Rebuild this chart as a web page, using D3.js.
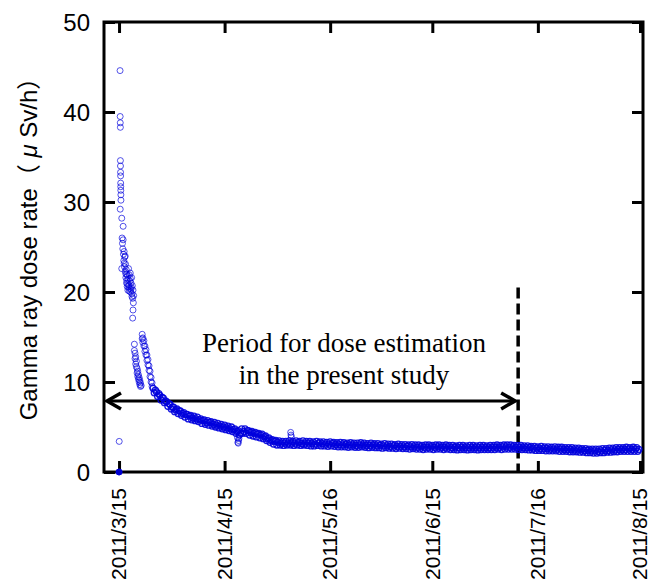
<!DOCTYPE html>
<html>
<head>
<meta charset="utf-8">
<script src="https://cdn.jsdelivr.net/npm/d3@7"></script>
<style>
  html, body { margin: 0; padding: 0; background: #fff; }
  svg { display: block; }
</style>
</head>
<body>
<svg id="chart" width="651" height="581"></svg>
<script>
// ---------------- data ----------------
const xTickDates = ["2011-03-15", "2011-04-15", "2011-05-16", "2011-06-15", "2011-07-16", "2011-08-15"];
const xTickLabels = ["2011/3/15", "2011/4/15", "2011/5/16", "2011/6/15", "2011/7/16", "2011/8/15"];
const yTicks = [0, 10, 20, 30, 40, 50];

// early readings: days after 2011-03-15 00:00, dose rate (μSv/h)
const earlyDays = [0.00, 0.02, 0.05, 0.30, 0.33, 0.36, 0.39, 0.40, 0.42, 0.44, 0.46, 0.48, 0.50, 0.52, 0.54, 0.56, 0.35, 0.80,
  1.20, 0.80, 0.9, 1.0, 1.1, 1.2, 1.3, 1.4, 1.5, 1.6, 1.7, 1.8, 1.9, 2.0, 2.1, 2.2, 2.3, 2.4, 2.5, 2.6, 2.7, 2.8,
  2.9, 3.0, 3.1, 3.2, 3.3, 3.4, 3.5, 3.6, 3.7, 3.8, 3.9, 4.0, 4.1, 4.2, 4.3, 4.1, 4.0,
  4.5, 4.5, 4.7, 4.7, 4.9, 4.9, 5.1, 5.1, 5.3, 5.3, 5.5, 5.5, 5.7, 5.7, 5.9, 5.9, 6.1, 6.1, 6.3, 6.3, 6.5,
  6.8, 6.8, 7.0, 7.0, 7.3, 7.3, 7.6, 7.6, 7.9, 7.9, 8.2, 8.2, 8.5, 8.5, 8.8, 8.8, 9.1, 9.1, 9.4, 9.4, 9.7, 9.7,
  1.5, 2.0, 2.5, 3.0, 3.5, 1.8, 2.3, 2.8, 3.3, 3.8];
const earlyDoses = [0.0, 0.0, 3.4, 44.6, 39.5, 38.8, 38.3, 34.6, 34.0, 33.3, 32.9, 32.1, 31.7, 31.3, 30.8, 30.2, 29.2, 28.2,
  27.3, 22.6, 26.0, 25.4, 24.8, 25.8, 24.2, 23.5, 24.5, 22.8, 23.9, 22.3, 23.1, 21.6, 22.5, 21.0, 22.0, 20.6, 21.8, 20.2, 21.4, 22.6,
  20.8, 21.9, 20.4, 21.2, 22.1, 20.0, 21.0, 20.5, 21.6, 19.8, 20.7, 19.3, 20.2, 18.8, 19.6, 18.0, 17.1,
  14.2, 13.5, 13.2, 12.6, 12.8, 12.0, 12.3, 11.7, 11.5, 11.0, 11.2, 10.6, 10.8, 10.3, 10.5, 10.0, 10.2, 9.7, 9.9, 9.5, 9.6,
  15.3, 14.8, 14.9, 14.4, 14.6, 14.0, 14.0, 13.4, 13.6, 13.0, 13.0, 12.4, 12.5, 11.9, 11.8, 11.3, 11.2, 10.6, 10.5, 10.0, 9.9, 9.5,
  23.2, 22.0, 20.9, 20.1, 20.3, 24.0, 21.3, 20.6, 21.5, 19.5];

// continuous readings every 8 hours from 2011-03-25 00:00
const bandStart = "2011-03-25T00:00";
const bandStepHours = 8;
const bandDoses = [
  9.3, 8.8, 9.1, 8.9, 8.4, 8.7, 8.5, 8.0, 8.3, 8.2, 7.7, 7.9, 7.8, 7.3, 7.6, 7.5, 7.0, 7.2, 7.2, 6.7, 6.9,
  7.0, 6.5, 6.8, 6.8, 6.3, 6.5, 6.6, 6.1, 6.4, 6.4, 5.9, 6.2, 6.3, 5.8, 6.0, 6.2, 5.7, 5.9, 6.1, 5.6, 5.8,
  5.9, 5.4, 5.7, 5.8, 5.3, 5.5, 5.7, 5.2, 5.5, 5.6, 5.1, 5.3, 5.5, 5.0, 5.2, 5.4, 4.9, 5.1, 5.3, 4.8, 5.0,
  5.2, 4.7, 4.9, 5.1, 4.6, 4.8, 5.0, 4.5, 4.7, 4.8, 4.3, 4.5, 4.6, 4.1, 4.3, 4.8, 4.3, 4.5, 4.8, 4.3, 4.6,
  4.6, 4.1, 4.4, 4.5, 4.0, 4.3, 4.4, 3.9, 4.2, 4.3, 3.8, 4.1, 4.2, 3.7, 3.9, 4.0, 3.5, 3.7, 3.8, 3.3, 3.5,
  3.6, 3.1, 3.4, 3.5, 3.0, 3.3, 3.45, 3.0, 3.2, 3.4, 2.95, 3.2, 3.4, 3.0, 3.2, 3.45, 3.0, 3.2, 3.4, 2.95, 3.2,
  3.45, 3.0, 3.25, 3.4, 2.95, 3.15, 3.45, 3.0, 3.2, 3.4, 2.95, 3.2, 3.4, 2.9, 3.15, 3.35, 2.9, 3.1, 3.4, 2.95, 3.2,
  3.35, 2.9, 3.15, 3.35, 2.9, 3.1, 3.3, 2.85, 3.1, 3.35, 2.9, 3.15, 3.3, 2.85, 3.05, 3.25, 2.8, 3.05,
  3.3, 2.8, 3.0, 3.25, 2.8, 3.05, 3.2, 2.75, 3.0, 3.25, 2.8, 3.0, 3.2, 2.75, 2.95, 3.2, 2.75, 3.0,
  3.25, 2.8, 3.0, 3.2, 2.75, 2.95, 3.15, 2.7, 2.95, 3.2, 2.75, 3.0, 3.15, 2.7, 2.9, 3.15, 2.7, 2.95,
  3.1, 2.65, 2.9, 3.15, 2.7, 2.9, 3.1, 2.65, 2.85, 3.1, 2.65, 2.9, 3.05, 2.6, 2.85, 3.1, 2.65, 2.85,
  3.05, 2.6, 2.8, 3.05, 2.6, 2.85, 3.0, 2.55, 2.8, 3.05, 2.6, 2.8, 3.0, 2.55, 2.75, 3.0, 2.55, 2.8,
  2.95, 2.5, 2.75, 3.0, 2.55, 2.75, 3.0, 2.55, 2.8, 2.95, 2.5, 2.75, 3.0, 2.55, 2.8, 3.0, 2.55, 2.75,
  2.95, 2.5, 2.75, 3.0, 2.55, 2.8, 2.95, 2.5, 2.7, 2.95, 2.5, 2.75, 2.9, 2.45, 2.7, 2.95, 2.5, 2.75,
  2.95, 2.5, 2.7, 2.9, 2.45, 2.7, 2.95, 2.5, 2.75, 2.95, 2.5, 2.7, 2.9, 2.45, 2.7, 2.95, 2.5, 2.75,
  2.95, 2.5, 2.7, 2.9, 2.5, 2.7, 2.95, 2.5, 2.75, 2.95, 2.5, 2.75, 3.0, 2.55, 2.75, 2.95, 2.5, 2.8,
  3.0, 2.55, 2.8, 3.0, 2.55, 2.75, 3.0, 2.55, 2.8, 2.95, 2.55, 2.75, 2.95, 2.5, 2.75, 2.95, 2.5, 2.7,
  2.9, 2.5, 2.7, 2.9, 2.45, 2.7, 2.85, 2.45, 2.65, 2.85, 2.4, 2.65, 2.8, 2.4, 2.6, 2.85, 2.4, 2.6,
  2.8, 2.35, 2.6, 2.8, 2.35, 2.55, 2.75, 2.35, 2.55, 2.8, 2.35, 2.55, 2.75, 2.3, 2.55, 2.75, 2.3, 2.5,
  2.7, 2.3, 2.5, 2.7, 2.25, 2.5, 2.7, 2.25, 2.45, 2.65, 2.25, 2.45, 2.65, 2.2, 2.45, 2.6, 2.2, 2.4,
  2.6, 2.15, 2.4, 2.55, 2.15, 2.35, 2.55, 2.1, 2.35, 2.55, 2.1, 2.3, 2.55, 2.15, 2.35, 2.6, 2.15, 2.4,
  2.6, 2.2, 2.4, 2.65, 2.2, 2.45, 2.65, 2.25, 2.45, 2.7, 2.25, 2.5, 2.7, 2.3, 2.5, 2.7, 2.3, 2.5,
  2.75, 2.3, 2.55, 2.7, 2.3, 2.5, 2.75, 2.3, 2.55, 2.7, 2.3, 2.5
];

// isolated excursions
const spikeDays = [34.8, 34.9, 35.0, 35.1, 35.2, 50.4, 50.5, 50.6];
const spikeDoses = [3.8, 3.3, 3.2, 3.5, 3.7, 4.4, 4.1, 3.9];

// annotation
const periodEnd = "2011-07-10T05:00";
const periodArrowDose = 7.9;
const periodLineTop = 20.5;
const annotationLines = ["Period for dose estimation", "in the present study"];
const yLabelParts = ["Gamma ray dose rate（ ", "μ", " Sv/h）"];

// ---------------- drawing ----------------
const svg = d3.select("#chart");
const parse = s => new Date(s);
const dayMs = 86400000;
const origin = parse("2011-03-15T00:00");
const bandOrigin = parse(bandStart);

const x = d3.scaleTime()
  .domain([parse("2011-03-10T14:00"), parse("2011-08-15T21:00")])
  .range([104, 643]);
const y = d3.scaleLinear().domain([0, 50]).range([472, 22]);

const points = [];
earlyDays.forEach((d, i) => points.push({ t: new Date(+origin + d * dayMs), v: earlyDoses[i] }));
bandDoses.forEach((v, i) => points.push({ t: new Date(+bandOrigin + i * bandStepHours * 3600000), v, band: true }));
spikeDays.forEach((d, i) => points.push({ t: new Date(+origin + d * dayMs), v: spikeDoses[i] }));

const [x0, x1] = x.range();
const [yb, yt] = y.range();
const tickDates = xTickDates.map(s => parse(s + "T00:00"));
const black = "#000";

// axes via d3 axis generators (inward ticks)
const axisStyle = g => {
  g.select(".domain").remove();
  g.selectAll(".tick line").attr("stroke", black).attr("stroke-width", 3);
};

svg.append("g").attr("transform", `translate(0,${yb})`)
  .call(d3.axisTop(x).tickValues(tickDates).tickSize(11).tickFormat(""))
  .call(axisStyle);
svg.append("g").attr("transform", `translate(0,${yt})`)
  .call(d3.axisBottom(x).tickValues(tickDates).tickSize(11).tickFormat(""))
  .call(axisStyle);
svg.append("g").attr("transform", `translate(${x0},0)`)
  .call(d3.axisRight(y).tickValues(yTicks).tickSize(11).tickFormat(""))
  .call(axisStyle);
svg.append("g").attr("transform", `translate(${x1},0)`)
  .call(d3.axisLeft(y).tickValues(yTicks).tickSize(11).tickFormat(""))
  .call(axisStyle);

svg.append("rect")
  .attr("x", x0).attr("y", yt)
  .attr("width", x1 - x0).attr("height", yb - yt)
  .attr("fill", "none").attr("stroke", black).attr("stroke-width", 3);

// y tick labels
svg.append("g")
  .selectAll("text")
  .data(yTicks)
  .join("text")
  .attr("x", 90)
  .attr("y", d => y(d))
  .attr("dy", "0.36em")
  .attr("text-anchor", "end")
  .attr("font-family", "Liberation Sans, Arial, sans-serif")
  .attr("font-size", 24)
  .attr("fill", black)
  .text(d => d);

// x tick labels (rotated)
svg.append("g")
  .selectAll("text")
  .data(tickDates)
  .join("text")
  .attr("transform", d => `translate(${x(d) + 0.5},${yb + 16}) rotate(-90)`)
  .attr("dy", "0.32em")
  .attr("text-anchor", "end")
  .attr("font-family", "Liberation Sans, Arial, sans-serif")
  .attr("font-size", 21)
  .attr("fill", black)
  .text((d, i) => xTickLabels[i]);

// y axis label
const yl = svg.append("text")
  .attr("transform", `translate(28,${243}) rotate(-90)`)
  .attr("dy", "0.36em")
  .attr("text-anchor", "middle")
  .attr("font-family", "Liberation Sans, Arial, 'Noto Sans CJK JP', sans-serif")
  .attr("font-size", 24)
  .attr("fill", black);
yl.selectAll("tspan")
  .data(yLabelParts)
  .join("tspan")
  .attr("font-style", (d, i) => i === 1 ? "italic" : null)
  .text(d => d);

// dashed vertical line
const xe = x(parse(periodEnd));
svg.append("line")
  .attr("x1", xe).attr("x2", xe)
  .attr("y1", y(periodLineTop)).attr("y2", y(0))
  .attr("stroke", black).attr("stroke-width", 3.5)
  .attr("stroke-dasharray", "11,5");

// double arrow
const ya = y(periodArrowDose);
const xs = x0 + 3, xf = xe - 3;
svg.append("line")
  .attr("x1", xs).attr("x2", xf).attr("y1", ya).attr("y2", ya)
  .attr("stroke", black).attr("stroke-width", 3);
const head = d3.line();
svg.append("path")
  .attr("d", head([[xs + 14, ya - 8], [xs, ya], [xs + 14, ya + 8]]))
  .attr("fill", "none").attr("stroke", black).attr("stroke-width", 3.5)
  .attr("stroke-linejoin", "miter");
svg.append("path")
  .attr("d", head([[xf - 14, ya - 8], [xf, ya], [xf - 14, ya + 8]]))
  .attr("fill", "none").attr("stroke", black).attr("stroke-width", 3.5)
  .attr("stroke-linejoin", "miter");

// points (drawn on top)
svg.append("g")
  .selectAll("circle")
  .data(points)
  .join("circle")
  .attr("cx", d => x(d.t))
  .attr("cy", d => y(d.v))
  .attr("r", 3)
  .attr("fill", d => d.v === 0 ? "#0000cc" : "none")
  .attr("stroke", "#0000dd")
  .attr("stroke-opacity", d => d.band ? 0.9 : 0.75)
  .attr("stroke-width", d => d.band ? 1.3 : 0.9);

// annotation text
svg.append("g")
  .selectAll("text")
  .data(annotationLines)
  .join("text")
  .attr("x", 344)
  .attr("y", (d, i) => 352 + i * 32)
  .attr("text-anchor", "middle")
  .attr("font-family", "Liberation Serif, 'Times New Roman', serif")
  .attr("font-size", 27)
  .attr("fill", black)
  .text(d => d);
</script>
</body>
</html>
